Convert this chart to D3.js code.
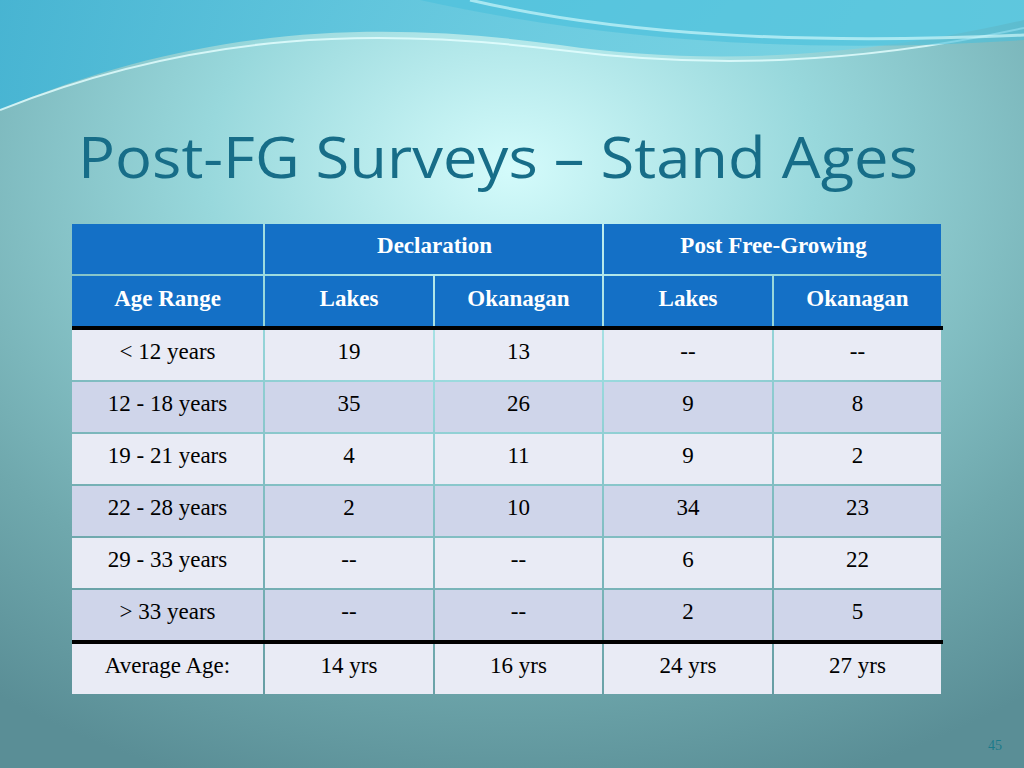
<!DOCTYPE html>
<html><head><meta charset="utf-8">
<script src="https://cdn.jsdelivr.net/npm/d3@7"></script>
<style>body{margin:0;overflow:hidden}</style>
</head><body>
<svg id="c" width="1024" height="768"></svg>
<script>
const title = "Post-FG Surveys – Stand Ages";
const groups = ["Declaration", "Post Free-Growing"];
const subHeaders = ["Age Range", "Lakes", "Okanagan", "Lakes", "Okanagan"];
const ageRanges = ["< 12 years", "12 - 18 years", "19 - 21 years", "22 - 28 years", "29 - 33 years", "> 33 years"];
const declLakes = ["19", "35", "4", "2", "--", "--"];
const declOkanagan = ["13", "26", "11", "10", "--", "--"];
const pfgLakes = ["--", "9", "9", "34", "6", "2"];
const pfgOkanagan = ["--", "8", "2", "23", "22", "5"];
const avgRow = ["Average Age:", "14 yrs", "16 yrs", "24 yrs", "27 yrs"];
const pageNum = "45";

const svg = d3.select("#c");
const defs = svg.append("defs");
const rg = defs.append("radialGradient").attr("id","bg").attr("cx","0.5").attr("cy","0.22").attr("r","0.85");
rg.append("stop").attr("offset","0").attr("stop-color","#d4fbfb");
rg.append("stop").attr("offset","0.35").attr("stop-color","#98d8dc");
rg.append("stop").attr("offset","0.75").attr("stop-color","#6fa8ad");
rg.append("stop").attr("offset","1").attr("stop-color","#5a8e96");
svg.append("rect").attr("width",1024).attr("height",768).attr("fill","url(#bg)");

const wg = defs.append("linearGradient").attr("id","wv").attr("x1","0").attr("x2","1");
wg.append("stop").attr("offset","0").attr("stop-color","#3fb4d6");
wg.append("stop").attr("offset","1").attr("stop-color","#7fd8e6");
svg.append("path").attr("d","M0,0 L1024,0 L1024,20 C850,60 700,65 560,45 C380,20 200,25 0,110 Z").attr("fill","url(#wv)").attr("opacity",0.85);
svg.append("path").attr("d","M0,110 C200,30 380,28 560,50 C700,68 850,66 1024,28").attr("fill","none").attr("stroke","#e6ffff").attr("stroke-width",2).attr("opacity",0.8);
svg.append("path").attr("d","M420,0 C600,40 800,55 1024,40 L1024,0 Z").attr("fill","#4ac0dc").attr("opacity",0.6);
svg.append("path").attr("d","M470,0 C620,35 800,45 1024,35").attr("fill","none").attr("stroke","#dff").attr("stroke-width",3).attr("opacity",0.6);

svg.append("text").attr("x",78).attr("y",178).text(title)
  .attr("font-family","Open Sans, sans-serif").attr("font-size",56).attr("fill","#176d88")
  .attr("textLength",840).attr("lengthAdjust","spacingAndGlyphs");

const cols = [72,265,435,604,774,943];
const x = d3.scaleOrdinal().domain(d3.range(5)).range(cols);
const colW = i => cols[i+1]-cols[i]-2;
const font = "Liberation Serif, Times New Roman, serif";
const blue = "#1470c6";
const fs = 23;

const y0 = 224, rh = 50;
svg.append("rect").attr("x",72).attr("y",y0).attr("width",colW(0)).attr("height",rh).attr("fill",blue);
[[1,3],[3,5]].forEach((r,i)=>{
  svg.append("rect").attr("x",x(r[0])).attr("y",y0).attr("width",cols[r[1]]-cols[r[0]]-2).attr("height",rh).attr("fill",blue);
  svg.append("text").attr("x",(cols[r[0]]+cols[r[1]])/2).attr("y",y0+29).attr("text-anchor","middle")
    .attr("font-family",font).attr("font-weight","bold").attr("font-size",fs).attr("fill","#fff").text(groups[i]);
});
const y1 = 276;
subHeaders.forEach((h,i)=>{
  svg.append("rect").attr("x",x(i)).attr("y",y1).attr("width",colW(i)).attr("height",rh).attr("fill",blue);
  svg.append("text").attr("x",x(i)+colW(i)/2).attr("y",y1+30).attr("text-anchor","middle")
    .attr("font-family",font).attr("font-weight","bold").attr("font-size",fs).attr("fill","#fff").text(h);
});
svg.append("rect").attr("x",72).attr("y",326).attr("width",871).attr("height",4).attr("fill","#000");

const rows = ageRanges.map((a,i)=>[a,declLakes[i],declOkanagan[i],pfgLakes[i],pfgOkanagan[i]]);
const yRow = d3.scaleBand().domain(d3.range(rows.length)).range([330,642]);
rows.forEach((r,ri)=>{
  const fill = ri%2===0 ? "#e9ebf5" : "#cfd5ea";
  r.forEach((v,ci)=>{
    svg.append("rect").attr("x",x(ci)).attr("y",yRow(ri)).attr("width",colW(ci)).attr("height",yRow.bandwidth()-2).attr("fill",fill);
    svg.append("text").attr("x",x(ci)+colW(ci)/2).attr("y",yRow(ri)+29).attr("text-anchor","middle")
      .attr("font-family",font).attr("font-size",fs).attr("fill","#000").text(v);
  });
});
svg.append("rect").attr("x",72).attr("y",640).attr("width",871).attr("height",4).attr("fill","#000");
avgRow.forEach((v,ci)=>{
  svg.append("rect").attr("x",x(ci)).attr("y",644).attr("width",colW(ci)).attr("height",50).attr("fill","#e9ebf5");
  svg.append("text").attr("x",x(ci)+colW(ci)/2).attr("y",673).attr("text-anchor","middle")
    .attr("font-family",font).attr("font-size",fs).attr("fill","#000").text(v);
});
svg.append("text").attr("x",995).attr("y",750).attr("text-anchor","middle").attr("font-family",font)
  .attr("font-size",14).attr("fill","#1a7a8a").text(pageNum);
</script>
</body></html>
